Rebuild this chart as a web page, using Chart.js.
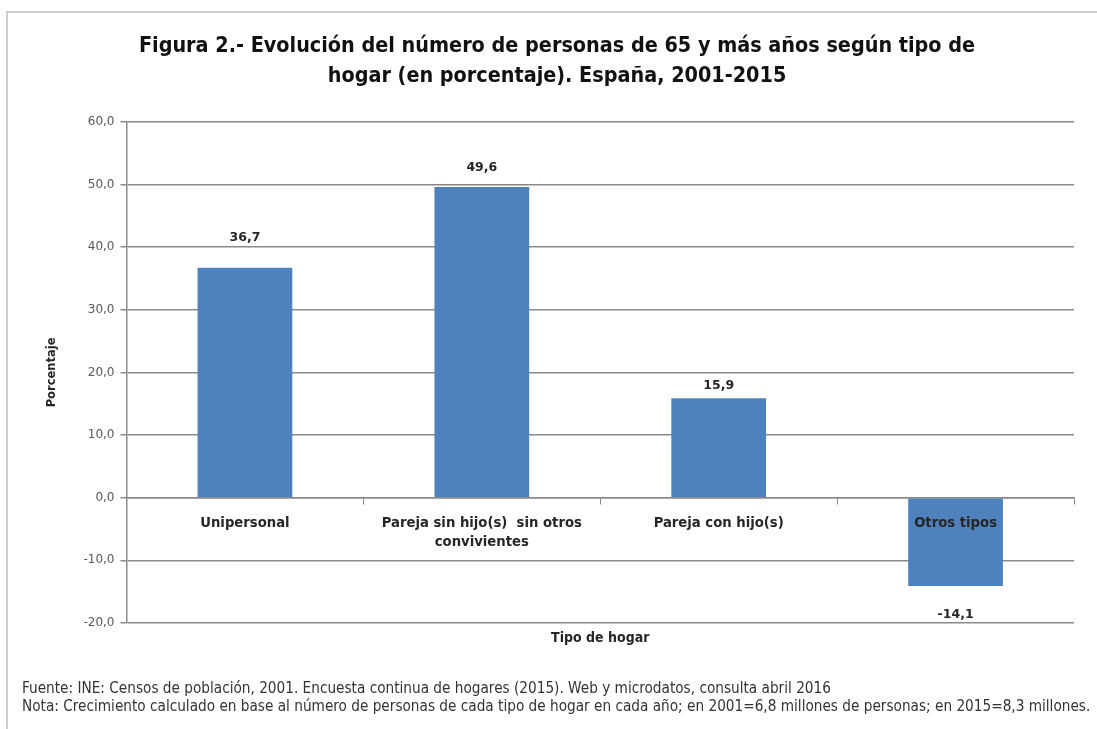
<!DOCTYPE html>
<html>
<head>
<meta charset="utf-8">
<script src="https://cdn.jsdelivr.net/npm/chart.js@4/dist/chart.umd.min.js"></script>
<style>
  html, body { margin: 0; padding: 0; background: #fff; }
  #wrap { position: relative; width: 1097px; height: 729px; overflow: hidden; }
  #frame { position: absolute; left: 6px; top: 11px; width: 1200px; height: 800px;
           border-left: 2px solid #cdcdcd; border-top: 2px solid #cdcdcd; }
  .nota { position: absolute; left: 22px; font-family: "Liberation Sans Narrow", "DejaVu Sans Condensed", sans-serif;
          font-size: 15.2px; color: #333; white-space: nowrap; line-height: 18px; }
  canvas { position: absolute; left: 0; top: 0; }
</style>
</head>
<body>
<div id="wrap">
  <div id="frame"></div>
  <canvas id="grafico" width="1097" height="729"></canvas>
  <div class="nota" style="top:679px">Fuente: INE: Censos de población, 2001. Encuesta continua de hogares (2015). Web y microdatos, consulta abril 2016</div>
  <div class="nota" style="top:697px">Nota: Crecimiento calculado en base al número de personas de cada tipo de hogar en cada año; en 2001=6,8 millones de personas; en 2015=8,3 millones.</div>
</div>
<script>
// datos
const tipos = ["Unipersonal", ["Pareja sin hijo(s)  sin otros", "convivientes"], "Pareja con hijo(s)", "Otros tipos"];
const valores = [36.7, 49.6, 15.9, -14.1];
const ejeY = { min: -20, max: 60, paso: 10 };

const NARROW = '"Liberation Sans Narrow", "DejaVu Sans Condensed", sans-serif';
const DEJAVU = '"DejaVu Sans", Verdana, sans-serif';

const fmt = v => v.toFixed(1).replace(".", ",");

// etiquetas de valor encima / debajo de cada barra
const etiquetas = {
  id: "etiquetas",
  afterDatasetsDraw(chart, args, opts) {
    const {ctx} = chart;
    const meta = chart.getDatasetMeta(0);
    ctx.save();
    ctx.font = "bold 12.5px " + DEJAVU;
    ctx.fillStyle = "#262626";
    ctx.textAlign = "center";
    ctx.textBaseline = "middle";
    meta.data.forEach((bar, i) => {
      const v = valores[i];
      const off = opts.desfase[i];
      const y = v >= 0 ? bar.y - off : bar.y + off;
      ctx.fillText(fmt(v), bar.x, y);
    });
    ctx.restore();
  }
};

new Chart(document.getElementById("grafico"), {
  type: "bar",
  data: {
    labels: tipos,
    datasets: [{
      data: valores,
      backgroundColor: "#4F81BD",
      barPercentage: 0.4,
      categoryPercentage: 1
    }]
  },
  plugins: [etiquetas],
  options: {
    responsive: false,
    animation: false,
    layout: { padding: { top: 12, left: 40, right: 23, bottom: 78 } },
    plugins: {
      legend: { display: false },
      tooltip: { enabled: false },
      etiquetas: { desfase: [30, 19, 12, 29] },
      title: {
        display: true,
        text: ["Figura 2.- Evolución del número de personas de 65 y más años según tipo de",
               "hogar (en porcentaje). España, 2001-2015"],
        color: "#111",
        font: { family: NARROW, size: 21.4, weight: "bold", lineHeight: 1.4 },
        padding: { top: 19, bottom: 31 }
      }
    },
    scales: {
      x: {
        position: { y: 0 },
        grid: { display: true, drawOnChartArea: false, drawTicks: true, tickLength: 6, color: "#8a8a8a" },
        border: { display: true, color: "#8a8a8a", width: 1.5 },
        ticks: {
          z: 1,
          color: "#262626",
          padding: 10,
          maxRotation: 0,
          autoSkip: false,
          font: { family: NARROW, size: 14.7, weight: "bold", lineHeight: 1.3 }
        }
      },
      x2: {
        type: "category",
        axis: "x",
        position: "bottom",
        labels: tipos,
        grid: { display: false },
        border: { display: false },
        ticks: { display: false },
        title: {
          display: true,
          text: "Tipo de hogar",
          color: "#262626",
          font: { family: NARROW, size: 14, weight: "bold" },
          padding: { top: 0, bottom: 4 }
        },
        afterFit: s => { s.height = 28; }
      },
      y: {
        min: ejeY.min,
        max: ejeY.max,
        afterFit: s => { s.width = 86.5; },
        grid: { color: "#8a8a8a", lineWidth: 1.5, tickLength: 6 },
        border: { display: true, color: "#8a8a8a", width: 1.5 },
        ticks: {
          stepSize: ejeY.paso,
          color: "#595959",
          padding: 6,
          font: { family: DEJAVU, size: 12 },
          callback: v => fmt(v)
        },
        title: {
          display: true,
          text: "Porcentaje",
          color: "#262626",
          font: { family: DEJAVU, size: 11.5, weight: "bold" },
          padding: { top: 5, bottom: 0 }
        }
      }
    }
  }
});
</script>
</body>
</html>
